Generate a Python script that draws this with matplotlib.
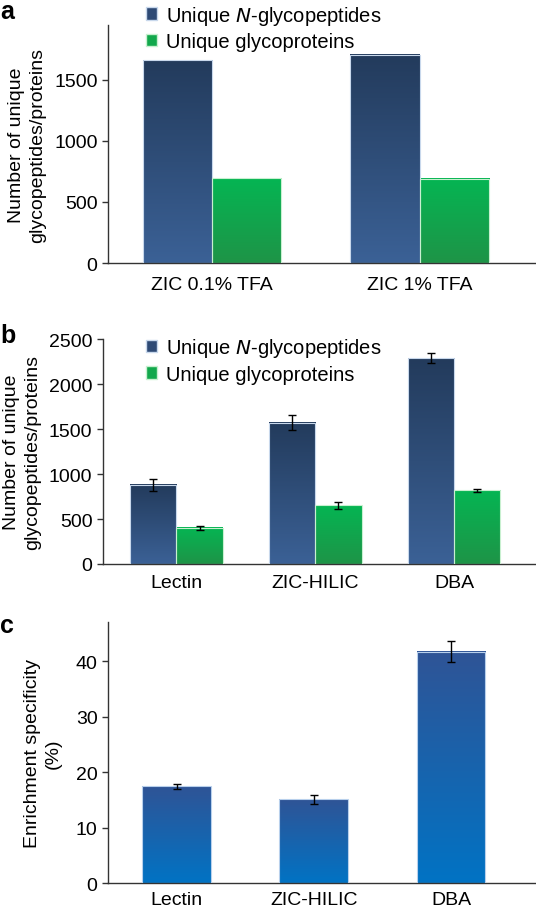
import numpy as np
import matplotlib
matplotlib.use("Agg")
import matplotlib.pyplot as plt
from matplotlib.colors import LinearSegmentedColormap
from matplotlib.patches import Patch

plt.rcParams['font.family'] = ['Liberation Sans', 'DejaVu Sans']
plt.rcParams['font.size'] = 14

# panel a
a_labels = ["ZIC 0.1% TFA", "ZIC 1% TFA"]
a_peptides = [1662, 1705]
a_proteins = [693, 692]

# panel b
b_labels = ["Lectin", "ZIC-HILIC", "DBA"]
b_peptides = [881, 1572, 2290]
b_peptides_err = [67, 85, 52]
b_proteins = [403, 652, 820]
b_proteins_err = [24, 35, 17]

# panel c
c_labels = ["Lectin", "ZIC-HILIC", "DBA"]
c_spec = [17.4, 15.1, 41.7]
c_spec_err = [0.5, 0.8, 1.9]

blue_cm = LinearSegmentedColormap.from_list("b", ["#3b6196", "#233b5c"])
green_cm = LinearSegmentedColormap.from_list("g", ["#1e9447", "#05b553"])
c_cm = LinearSegmentedColormap.from_list("c", ["#0173c4", "#2f5496"])
grad = np.linspace(0, 1, 256).reshape(-1, 1)


def grad_bars(ax, x, h, w, cmap, edge):
    bars = ax.bar(x, h, w, color="none", edgecolor=edge, linewidth=0.8, zorder=3)
    for b in bars:
        x0, y0 = b.get_x(), b.get_y()
        ax.imshow(grad, extent=[x0, x0 + b.get_width(), y0, y0 + b.get_height()],
                  origin="lower", aspect="auto", cmap=cmap, zorder=2)
    return bars


def style(ax, xpad):
    for s in ["top", "right"]:
        ax.spines[s].set_visible(False)
    for s in ["left", "bottom"]:
        ax.spines[s].set_color("#333333")
        ax.spines[s].set_linewidth(1.0)
    ax.tick_params(axis="x", length=0, pad=xpad, labelsize=14)
    ax.tick_params(axis="y", length=4, width=1, color="#333333", labelsize=14)


handles = [Patch(facecolor="#2e4a75", edgecolor="#c8d8ec", label="Unique $\\it{N}$-glycopeptides"),
           Patch(facecolor="#12a84c", edgecolor="#c8f0d0", label="Unique glycoproteins")]
leg_kw = dict(loc="upper left", frameon=False, handlelength=0.55, handleheight=0.55,
              handletextpad=0.45, labelspacing=0.28, fontsize=14.5,
              borderaxespad=0, borderpad=0)

fig = plt.figure(figsize=(5.36, 9.12), dpi=100)
w = 1 / 3

# a
ax = fig.add_axes([0.2015, 0.7105, 0.7985, 0.261])
x = np.arange(len(a_labels))
grad_bars(ax, x - w / 2, a_peptides, w, blue_cm, "#c8d8ec")
grad_bars(ax, x + w / 2, a_proteins, w, green_cm, "#c8f0d0")
ax.set_xlim(-0.5, 1.56)
ax.set_ylim(0, 1950)
ax.set_xticks(x)
ax.set_xticklabels(a_labels)
ax.set_yticks([0, 500, 1000, 1500])
ax.set_ylabel("Number of unique\nglycopeptides/proteins", labelpad=6, linespacing=1.3)
style(ax, 9.5)
ax.legend(handles=handles, bbox_to_anchor=(0.272, 0.995),
          bbox_transform=fig.transFigure, **leg_kw)
fig.text(0.0, 1.0, "a", fontsize=18, fontweight="bold", va="top", ha="left")

# b
ax = fig.add_axes([0.192, 0.3805, 0.808, 0.2465])
x = np.arange(len(b_labels))
ekw = dict(ecolor="black", elinewidth=1, capsize=3, capthick=1)
grad_bars(ax, x - w / 2, b_peptides, w, blue_cm, "#c8d8ec")
grad_bars(ax, x + w / 2, b_proteins, w, green_cm, "#c8f0d0")
ax.errorbar(x - w / 2, b_peptides, yerr=b_peptides_err, fmt="none", zorder=4, **ekw)
ax.errorbar(x + w / 2, b_proteins, yerr=b_proteins_err, fmt="none", zorder=4, **ekw)
ax.set_xlim(-0.53, 2.59)
ax.set_ylim(0, 2500)
ax.set_xticks(x)
ax.set_xticklabels(b_labels)
ax.set_yticks([0, 500, 1000, 1500, 2000, 2500])
ax.set_ylabel("Number of unique\nglycopeptides/proteins", labelpad=5.5, linespacing=1.3)
style(ax, 7.5)
ax.legend(handles=handles, bbox_to_anchor=(0.272, 0.6305),
          bbox_transform=fig.transFigure, **leg_kw)
fig.text(0.0, 0.645, "b", fontsize=18, fontweight="bold", va="top", ha="left")

# c
ax = fig.add_axes([0.2015, 0.0307, 0.7985, 0.2859])
x = np.arange(len(c_labels))
grad_bars(ax, x, c_spec, 0.5, c_cm, "#b8d0ec")
ax.errorbar(x, c_spec, yerr=c_spec_err, fmt="none", zorder=4, **ekw)
ax.set_xlim(-0.5, 2.62)
ax.set_ylim(0, 47)
ax.set_xticks(x)
ax.set_xticklabels(c_labels)
ax.set_yticks([0, 10, 20, 30, 40])
ax.set_ylabel("Enrichment specificity\n(%)", labelpad=10, linespacing=1.3)
style(ax, 6)
fig.text(0.0, 0.327, "c", fontsize=18, fontweight="bold", va="top", ha="left")

fig.savefig("out.png", dpi=100)
